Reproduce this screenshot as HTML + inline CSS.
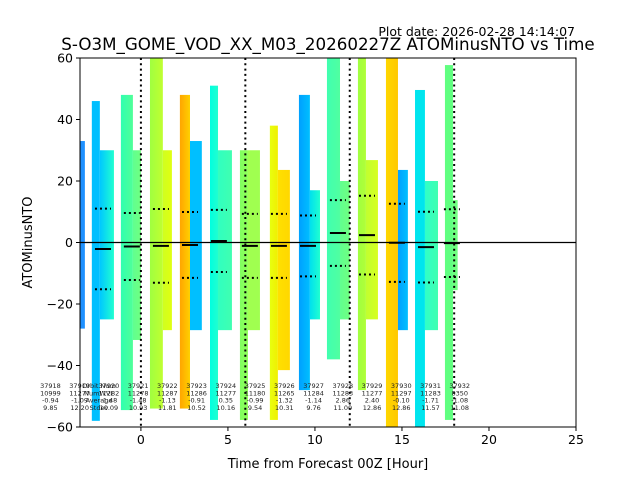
<!DOCTYPE html>
<html><head><meta charset="utf-8"><style>
html,body{margin:0;padding:0;background:#fff;}
svg{display:block;font-family:"DejaVu Sans","Liberation Sans",sans-serif;}
</style></head><body>
<svg id="chart" width="640" height="480" viewBox="0 0 640 480">
<rect x="0" y="0" width="640" height="480" fill="#fff"/>
<text x="575" y="36" font-size="12.5" text-anchor="end">Plot date: 2026-02-28 14:14:07</text>
<text x="328" y="50" font-size="16.7" text-anchor="middle">S-O3M_GOME_VOD_XX_M03_20260227Z ATOMinusNTO vs Time</text>
<text x="328" y="468" font-size="13" text-anchor="middle">Time from Forecast 00Z [Hour]</text>
<text transform="translate(32,242.5) rotate(-90)" font-size="13" text-anchor="middle">ATOMinusNTO</text>
<defs id="defs"></defs>
<g id="plot"></g>
<g id="axes"></g>
</svg>
<script>
const xTicks = [0, 5, 10, 15, 20, 25];
const yTicks = [-60, -40, -20, 0, 20, 40, 60];
const forecastMarks = [0, 6, 12, 18];
const segHourStart = [-3.5,-2.82,-2.36,-1.15,-0.46,0.52,1.26,2.24,2.82,3.97,4.43,5.69,6.15,7.41,7.87,9.08,9.71,10.69,11.44,12.47,12.93,14.08,14.77,15.75,16.32,17.47,17.93];
const segHourEnd   = [-3.22,-2.36,-1.55,-0.46,0.0,1.26,1.78,2.82,3.5,4.43,5.23,6.15,6.84,7.87,8.56,9.71,10.29,11.44,12.0,12.93,13.62,14.77,15.34,16.32,17.07,17.93,18.2];
const segMax = [33,46,30,48,30,60,30,48,33,51,30,30,30,38,23.6,48,17,60,20,60,26.8,60,23.6,49.6,20,57.7,13.8];
const segMin = [-28,-58,-25,-54.5,-31.7,-54,-28.5,-54,-28.5,-57.7,-28.5,-57.7,-28.5,-57.7,-41.5,-48,-25,-38,-25,-48,-25,-60,-28.5,-60,-28.5,-57.7,-15.5];
const segColorA = ["#1e90ff","#00bfff","#00c8ff","#30ffb0","#60ff90","#a0ff40","#d0ff20","#ffa500","#00bfff","#00ffe0","#30ffc0","#80ff60","#a0ff50","#e8ff10","#ffe000","#00a0ff","#00e0ee","#40ffb0","#60ff90","#a0ff40","#c0ff30","#ffd700","#00a0ff","#00e5ee","#30ffc8","#60ff80","#70ff80"];
const segColorB = ["#1e90ff","#00bfff","#20ffd0","#50ff98","#70ff80","#c0ff30","#e0ff10","#ffd000","#00bfff","#20ffd0","#40ffb0","#90ff58","#a0ff50","#f0f000","#ffd700","#00bfff","#20ffd0","#50ffa0","#70ff80","#b0ff38","#d8ff20","#ffc800","#00bfff","#00e5ee","#40ffb0","#60ff80","#70ff80"];
const orbitHour = [-2.18,-0.52,1.15,2.82,4.48,6.26,7.93,9.6,11.32,12.99,14.71,16.38,17.87];
const orbitMean = [-2.1,-1.3,-1.1,-0.8,0.5,-1.1,-1.1,-1.1,3.1,2.4,-0.1,-1.5,-0.2];
const orbitStd  = [13.1,10.9,12.0,10.7,10.1,10.4,10.4,9.9,10.7,12.8,12.7,11.5,11.0];
const orbitNums = ["37918","37919","37920","37921","37922","37923","37924","37925","37926","37927","37928","37929","37930","37931","37932"];
const orbitCounts = ["10999","11277","11282","11278","11287","11286","11277","11180","11265","11284","11283","11277","11297","11283","8350"];
const orbitAvgs = ["-0.94","-1.09","-1.48","-1.48","-1.13","-0.91","0.35","-0.99","-1.32","-1.14","2.86","2.40","-0.10","-1.71","-1.08"];
const orbitStds = ["9.85","12.20","10.09","10.93","11.81","10.52","10.16","9.54","10.31","9.76","11.00","12.86","12.86","11.57","11.08"];
const annotHourStart = -5.2, annotHourStep = 1.68;

const L=80,R=576,T=58,B=427, xMin=-3.5, xMax=25, yMin=-60, yMax=60;
const X = h => L + (h - xMin) / (xMax - xMin) * (R - L);
const Y = v => B - (v - yMin) / (yMax - yMin) * (B - T);
const NS="http://www.w3.org/2000/svg";
const plot=document.getElementById('plot'), axes=document.getElementById('axes'), defs=document.getElementById('defs');
function mk(tag, attrs, parent){const e=document.createElementNS(NS,tag);for(const k in attrs)e.setAttribute(k,attrs[k]);parent.appendChild(e);return e;}

const cp=mk('clipPath',{id:'clip'},defs);
mk('rect',{x:L,y:T,width:R-L,height:B-T},cp);
const g=mk('g',{'clip-path':'url(#clip)'},plot);

for(let i=0;i<segHourStart.length;i++){
  const gr=mk('linearGradient',{id:'g'+i,x1:'0',x2:'1',y1:'0',y2:'0'},defs);
  mk('stop',{offset:'0','stop-color':segColorA[i]},gr);
  mk('stop',{offset:'1','stop-color':segColorB[i]},gr);
  const x0=X(segHourStart[i]), x1=X(segHourEnd[i]), y0=Y(segMax[i]), y1=Y(segMin[i]);
  const r=mk('rect',{x:x0,y:y0,width:x1-x0,height:y1-y0,fill:'url(#g'+i+')'},g);
  
  
}
for(const h of forecastMarks){
  const l=mk('line',{x1:X(h),x2:X(h),y1:T,y2:B,stroke:'#000','stroke-width':2,'stroke-dasharray':'2,3.3'},g);
  
  
}
const zl=mk('line',{x1:L,x2:R,y1:Y(0),y2:Y(0),stroke:'#000','stroke-width':1.2},g);


for(let i=0;i<orbitHour.length;i++){
  const cx=X(orbitHour[i]);
  const m=mk('line',{x1:cx-8,x2:cx+8,y1:Y(orbitMean[i]),y2:Y(orbitMean[i]),stroke:'#000','stroke-width':2},g);
  
  
  for(const s of [1,-1]){
    const d=mk('line',{x1:cx-8,x2:cx+8,y1:Y(orbitMean[i]+s*orbitStd[i]),y2:Y(orbitMean[i]+s*orbitStd[i]),stroke:'#000','stroke-width':2,'stroke-dasharray':'2,3'},g);
    
    
  }
}
for(let i=0;i<orbitNums.length;i++){
  const cx=X(annotHourStart+i*annotHourStep);
  const t=mk('text',{x:cx,y:388,'font-size':6.5,'text-anchor':'middle',fill:'#222'},plot);
  
  
  [orbitNums[i],orbitCounts[i],orbitAvgs[i],orbitStds[i]].forEach((s,j)=>{mk('tspan',{x:cx,dy:j?7.3:0},t).textContent=s;});
}
const lg=mk('text',{x:99,y:388,'font-size':6.5,'text-anchor':'middle',fill:'#222'},plot);


["Orbit Num","NumWVL","Average","Stdev"].forEach((s,j)=>{mk('tspan',{x:99,dy:j?7.3:0},lg).textContent=s;});

const fr=mk('rect',{x:L,y:T,width:R-L,height:B-T,fill:'none',stroke:'#000','stroke-width':1},axes);


for(const v of xTicks){
  mk('line',{x1:X(v),x2:X(v),y1:B,y2:B+4,stroke:'#000'},axes);
  const t=mk('text',{x:X(v),y:B+17,'font-size':12.5,'text-anchor':'middle'},axes);
  t.textContent=v;
  
  
}
for(const v of yTicks){
  mk('line',{x1:L-4,x2:L,y1:Y(v),y2:Y(v),stroke:'#000'},axes);
  const t=mk('text',{x:L-7,y:Y(v)+4.5,'font-size':12.5,'text-anchor':'end'},axes);
  t.textContent=(v<0?'\u2212'+(-v):v);
  
  
}
</script>
</body></html>
